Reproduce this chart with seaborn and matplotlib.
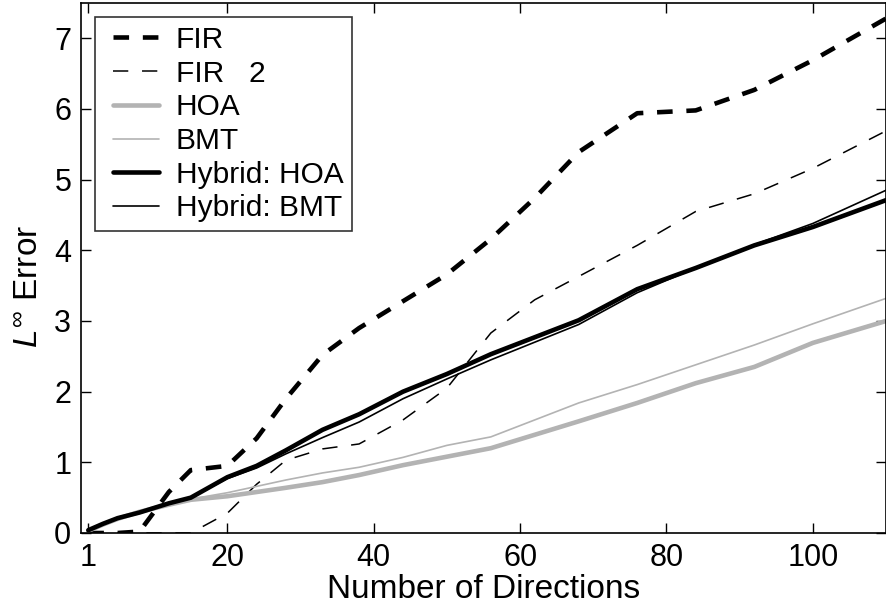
import matplotlib
matplotlib.use("Agg")
import matplotlib.pyplot as plt
from matplotlib.lines import Line2D
from matplotlib.legend_handler import HandlerLine2D
import seaborn as sns
import pandas as pd

# ---- data ----
directions = [1, 3, 5, 8, 12, 15, 20, 24, 28, 33, 38, 44, 50, 56, 62, 68, 76, 84, 92, 100, 110]
fir = [0.0, 0.0, 0.0, 0.02, 0.58, 0.89, 0.95, 1.34, 1.90, 2.52, 2.90, 3.28, 3.66, 4.16, 4.74, 5.39, 5.94, 5.98, 6.27, 6.69, 7.28]
fir_l2 = [0.0, 0.0, 0.0, 0.0, 0.0, 0.0, 0.28, 0.69, 1.03, 1.19, 1.26, 1.60, 2.05, 2.83, 3.30, 3.63, 4.07, 4.55, 4.80, 5.16, 5.69]
hoa = [0.03, 0.12, 0.20, 0.30, 0.40, 0.47, 0.52, 0.58, 0.64, 0.72, 0.82, 0.96, 1.08, 1.20, 1.39, 1.58, 1.84, 2.12, 2.35, 2.69, 3.00]
bmt = [0.03, 0.12, 0.20, 0.30, 0.40, 0.48, 0.57, 0.66, 0.75, 0.85, 0.93, 1.07, 1.24, 1.36, 1.60, 1.84, 2.10, 2.38, 2.66, 2.96, 3.32]
hyb_hoa = [0.04, 0.13, 0.21, 0.29, 0.42, 0.50, 0.79, 0.95, 1.17, 1.46, 1.68, 2.00, 2.25, 2.53, 2.77, 3.01, 3.45, 3.75, 4.07, 4.33, 4.71]
hyb_bmt = [0.04, 0.13, 0.21, 0.29, 0.42, 0.50, 0.77, 0.92, 1.12, 1.35, 1.57, 1.90, 2.18, 2.45, 2.70, 2.95, 3.40, 3.75, 4.08, 4.38, 4.85]

labels = ["FIR", "FIR   2", "HOA", "BMT", "Hybrid: HOA", "Hybrid: BMT"]
xticks = [1, 20, 40, 60, 80, 100]
yticks = [0, 1, 2, 3, 4, 5, 6, 7]

sns.set_theme(style="white")
plt.rcParams["font.family"] = ["Liberation Sans", "DejaVu Sans"]
plt.rcParams["mathtext.fontset"] = "custom"
plt.rcParams["mathtext.rm"] = "Liberation Sans"
plt.rcParams["mathtext.it"] = "Liberation Sans:italic"

FS = 22      # tick labels
LFS = 24     # axis labels
GFS = 21.5   # legend

fig = plt.figure(figsize=(8.87, 6.11), dpi=100)
ax = fig.add_axes([81 / 887, 1 - 533 / 611, 805 / 887, 530 / 611])

series = [fir, fir_l2, hoa, bmt, hyb_hoa, hyb_bmt]
styles = [
    dict(color="black", lw=3.3, ls=(0, (3.4, 3.0))),
    dict(color="black", lw=1.1, ls=(0, (10, 9))),
    dict(color="#b3b3b3", lw=3.3, ls="-"),
    dict(color="#b3b3b3", lw=1.2, ls="-"),
    dict(color="black", lw=3.3, ls="-"),
    dict(color="black", lw=1.2, ls="-"),
]
for vals, lab, st in zip(series, labels, styles):
    df = pd.DataFrame({"x": directions, "y": vals})
    sns.lineplot(data=df, x="x", y="y", ax=ax, color=st["color"], linewidth=st["lw"],
                 linestyle=st["ls"], label=lab, estimator=None, sort=False)

ax.set_xlim(0, 110)
ax.set_ylim(0, 7.5)
ax.set_xticks(xticks)
ax.set_yticks(yticks)
ax.tick_params(direction="in", length=7, width=1, colors="black", labelsize=FS,
               top=True, right=True, bottom=True, left=True, pad=7)
for s in ax.spines.values():
    s.set_color("black")
    s.set_linewidth(1.2)
ax.set_xlabel("Number of Directions", fontsize=LFS, color="black", labelpad=1)
ax.set_ylabel(r"$L^{\infty}$ Error", fontsize=LFS, color="black")
ax.yaxis.set_label_coords(-0.045, 0.465)

leg = ax.legend(loc="upper left", bbox_to_anchor=(0.0174, 0.9736), borderaxespad=0,
                fontsize=GFS, frameon=True, fancybox=False, edgecolor="black",
                handlelength=1.85, handletextpad=0.55, labelspacing=0.19, borderpad=0.3,
                handler_map={Line2D: HandlerLine2D(xpad=0.3)})
leg.get_frame().set_linewidth(1.2)
for t in leg.get_texts():
    t.set_color("black")

fig.savefig("out.png", dpi=100)
